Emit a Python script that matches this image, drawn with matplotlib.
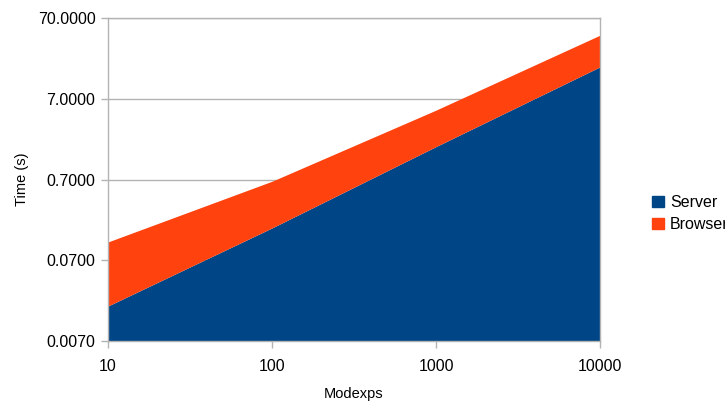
import numpy as np
import matplotlib
matplotlib.use("Agg")
import matplotlib.pyplot as plt
from matplotlib.patches import Patch
from matplotlib.ticker import FixedLocator, FuncFormatter, NullLocator

plt.rcParams["font.family"] = ["Liberation Sans", "DejaVu Sans"]

# modexp 횟수별 소요 시간 (초) — 누적 영역
modexps = ["10", "100", "1000", "10000"]
server_time = [0.019, 0.176, 1.79, 17.4]
browser_time = [0.099, 0.49, 3.27, 25.5]

SERVER_COLOR = "#004586"
BROWSER_COLOR = "#ff420e"
GRID_COLOR = "#b3b3b3"

x = np.arange(len(modexps))
server = np.array(server_time)
total = server + np.array(browser_time)

fig = plt.figure(figsize=(7.25, 4.03), dpi=100)
ax = fig.add_axes([108 / 725, 62 / 403, 492 / 725, 323 / 403])

ax.set_yscale("log")
ax.set_ylim(0.007, 70)
ax.set_xlim(x[0], x[-1])

# 아래 바닥(0.007)부터 서버, 그 위에 브라우저를 쌓는다
ax.fill_between(x, 0.007, server, color=SERVER_COLOR, linewidth=0, zorder=2)
ax.fill_between(x, server, total, color=BROWSER_COLOR, linewidth=0, zorder=2)

yticks = [0.007, 0.07, 0.7, 7.0, 70.0]
ax.yaxis.set_major_locator(FixedLocator(yticks))
ax.yaxis.set_minor_locator(NullLocator())
ax.yaxis.set_major_formatter(FuncFormatter(lambda v, _: f"{v:.4f}"))
ax.grid(True, axis="y", color=GRID_COLOR, linewidth=1, zorder=1)
ax.set_axisbelow(True)

ax.set_xticks(x)
ax.set_xticklabels(modexps)

for sp in ax.spines.values():
    sp.set_color(GRID_COLOR)
    sp.set_linewidth(1)
ax.tick_params(axis="both", colors=GRID_COLOR, labelcolor="black",
               labelsize=11.5, length=5, width=1)
ax.tick_params(axis="y", pad=4)
ax.tick_params(axis="x", pad=8)

ax.set_xlabel("Modexps", fontsize=10.5, labelpad=9)
ax.set_ylabel("Time (s)", fontsize=10.5, labelpad=6)

handles = [Patch(color=SERVER_COLOR, label="Server"),
           Patch(color=BROWSER_COLOR, label="Browser")]
fig.legend(handles=handles, loc="center left", bbox_to_anchor=(646 / 725, 0.47),
           frameon=False, fontsize=11.5, handlelength=0.7, handleheight=0.7,
           handletextpad=0.4, labelspacing=0.45, borderaxespad=0)

fig.savefig("out.png", dpi=100)
